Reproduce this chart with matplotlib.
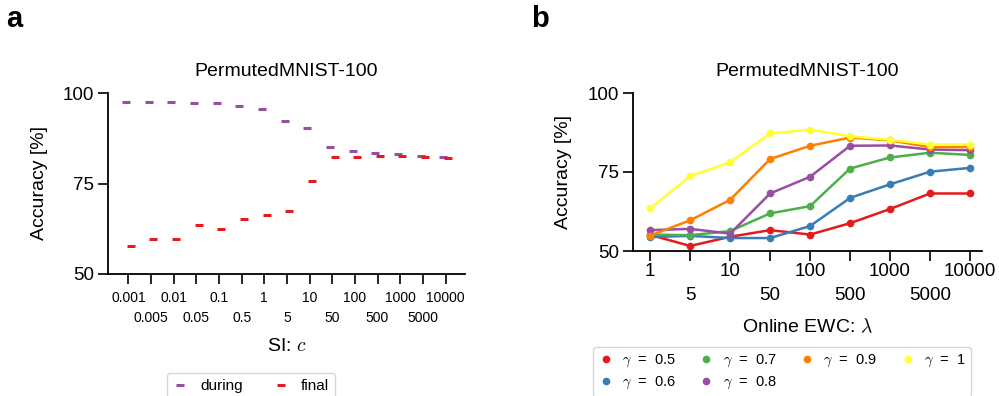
import numpy as np
import matplotlib.pyplot as plt

plt.rcParams['font.family'] = ['Liberation Sans', 'DejaVu Sans']
plt.rcParams['mathtext.fontset'] = 'cm'

# panel a: SI, values of c
si_c = ['0.001', '0.005', '0.01', '0.05', '0.1', '0.5', '1', '5', '10',
        '50', '100', '500', '1000', '5000', '10000']
si_during = [97.6, 97.6, 97.5, 97.2, 97.1, 96.4, 95.7, 92.4, 90.2,
             85.1, 83.9, 83.3, 83.1, 82.7, 82.4]
si_final = [57.7, 59.7, 59.8, 63.6, 62.4, 65.1, 66.3, 67.4, 75.8,
            82.4, 82.4, 82.7, 82.7, 82.4, 82.0]

# panel b: online EWC, values of lambda
ewc_lambda = ['1', '5', '10', '50', '100', '500', '1000', '5000', '10000']
gammas = ['0.5', '0.6', '0.7', '0.8', '0.9', '1']
ewc_acc = {
    '0.5': [55.1, 51.6, 54.5, 56.6, 55.2, 58.8, 63.3, 68.2, 68.2],
    '0.6': [54.4, 54.8, 54.1, 54.1, 57.9, 66.8, 71.1, 75.1, 76.3],
    '0.7': [55.2, 55.0, 56.3, 61.9, 64.2, 76.1, 79.6, 81.1, 80.4],
    '0.8': [56.6, 57.0, 55.5, 68.2, 73.5, 83.3, 83.4, 82.1, 81.9],
    '0.9': [54.9, 59.7, 66.2, 79.1, 83.3, 85.9, 85.0, 82.9, 82.9],
    '1':   [63.5, 73.7, 78.1, 87.2, 88.4, 86.3, 85.2, 83.7, 83.7],
}
colors = ['#e41a1c', '#377eb8', '#4daf4a', '#984ea3', '#ff7f00', '#ffff33']

W, H = 999, 396


def style_axis(ax, labels, xsize):
    for s in ['top', 'right']:
        ax.spines[s].set_visible(False)
    for s in ['left', 'bottom']:
        ax.spines[s].set_linewidth(1.3)
    ax.set_ylim(50, 100)
    ax.set_yticks([50, 75, 100])
    ax.tick_params(axis='y', labelsize=13.5, length=7, width=1.2, pad=3)
    idx = np.arange(len(labels))
    ax.set_xticks(idx[::2])
    ax.set_xticklabels(labels[::2])
    ax.set_xticks(idx[1::2], minor=True)
    ax.set_xticklabels(labels[1::2], minor=True)
    ax.tick_params(axis='x', which='both', labelsize=xsize, length=7, width=1.2)


fig = plt.figure(figsize=(W / 100, H / 100), dpi=100)

# ---- panel a
ax1 = fig.add_axes([108 / W, 1 - 274 / H, 357 / W, 181 / H])
pos = np.arange(len(si_c))
ax1.plot(pos - 0.1, si_during, ls='none', marker='_', ms=6, mew=2.2,
         color='#984ea3', label='during')
ax1.plot(pos + 0.1, si_final, ls='none', marker='_', ms=6, mew=2.2,
         color='#e41a1c', label='final')
style_axis(ax1, si_c, 10)
ax1.tick_params(axis='x', which='major', pad=5)
ax1.tick_params(axis='x', which='minor', pad=20)
ax1.set_xlim(-0.9, 14.86)
ax1.set_title('PermutedMNIST-100', fontsize=14, pad=12)
ax1.set_ylabel('Accuracy [%]', fontsize=14)
ax1.yaxis.set_label_coords(-0.167, 0.5)
ax1.set_xlabel('SI: $c$', fontsize=14)
ax1.xaxis.set_label_coords(0.5, -0.355)
fig.legend(*ax1.get_legend_handles_labels(), loc='upper center',
           bbox_to_anchor=(251 / W, 1 - 373 / H), ncol=2, fontsize=11,
           handlelength=1.0, columnspacing=2.0, borderaxespad=0)

# ---- panel b
ax2 = fig.add_axes([633 / W, 1 - 251 / H, 349 / W, 158 / H])
pos = np.arange(len(ewc_lambda))
for g, c in zip(gammas, colors):
    ax2.plot(pos, ewc_acc[g], color=c, lw=1.8, marker='o', ms=4.5,
             label='$\\gamma$  =  ' + g)
style_axis(ax2, ewc_lambda, 13.5)
ax2.tick_params(axis='x', which='major', pad=2)
ax2.tick_params(axis='x', which='minor', pad=19)
ax2.set_xlim(-0.43, 8.3)
ax2.set_title('PermutedMNIST-100', fontsize=14, pad=12)
ax2.set_ylabel('Accuracy [%]', fontsize=14)
ax2.yaxis.set_label_coords(-0.175, 0.5)
ax2.set_xlabel('Online EWC: $\\lambda$', fontsize=14)
ax2.xaxis.set_label_coords(0.5, -0.42)
h, l = ax2.get_legend_handles_labels()
fig.legend(h, l, loc='upper center', bbox_to_anchor=(782 / W, 1 - 347 / H),
           ncol=4, fontsize=10.5, handlelength=1.0, columnspacing=1.6,
           handletextpad=0.6, labelspacing=0.4, borderaxespad=0)
for lh in fig.legends[-1].get_lines():
    lh.set_linestyle('none')

fig.text(6 / W, 1 - 27 / H, 'a', fontsize=21, fontweight='bold', va='baseline')
fig.text(531 / W, 1 - 27 / H, 'b', fontsize=21, fontweight='bold', va='baseline')

fig.savefig('out.png', dpi=100)
